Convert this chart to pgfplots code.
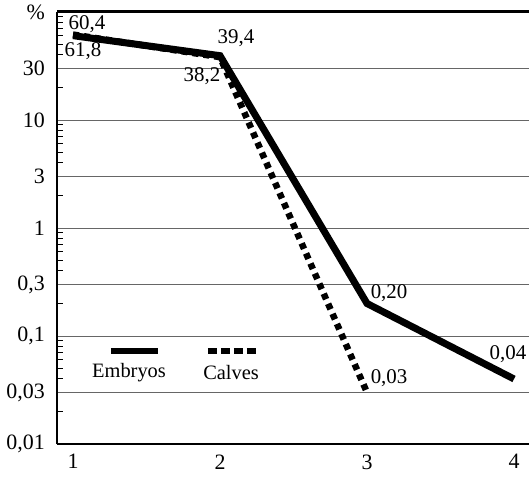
\documentclass[border=0pt]{standalone}
\usepackage{fontspec}
\setmainfont{Liberation Serif}
\usepackage{pgfplots}
\pgfplotsset{compat=1.18}
\begin{document}
\begin{tikzpicture}
\begin{axis}[
  scale only axis,
  width=472bp, height=432bp,
  xmin=0.891, xmax=4.102,
  ymode=log, ymin=0.01, ymax=100,
  axis x line=bottom, axis y line=left,
  axis line style={line width=2.2bp, -},
  separate axis lines,
  font=\fontsize{21}{24}\selectfont,
  xtick={1,2,3,4},
  xticklabels={1,{\raisebox{-2bp}{2}},{\raisebox{8bp}{3}},4},
  xtick style={draw=none},
  xticklabel style={yshift=-7bp, font=\fontsize{22}{24}\selectfont},
  ytick={0.01,0.03,0.1,0.3,1,3,10,30,100},
  yticklabels={{0,01},{0,03},{0,1},{0,3},1,3,10,30,\%},
  yticklabel style={anchor=east, inner sep=0pt, xshift=-12bp, font=\fontsize{22}{24}\selectfont},
  ytick pos=left,
  extra y ticks={0.02,0.04,0.05,0.06,0.07,0.08,0.09,0.2,0.4,0.5,0.6,0.7,0.8,0.9,2,4,5,6,7,8,9,20,40,50,60,70,80,90},
  extra y tick labels={},
  extra y tick style={grid=none, major tick length=6bp, tick align=inside, major tick style={line width=1bp, black}},
  major tick length=0bp,
  ymajorgrids,
  major grid style={line width=0.9bp, gray!80!black},
  clip=false,
]
\addplot[line width=7bp, black, line join=miter] coordinates {(1,60.4) (2,39.4) (3,0.20) (4,0.04)};
\addplot[line width=6.5bp, black, dash pattern=on 6bp off 5bp] coordinates {(1,61.8) (2,38.2) (3,0.03)};
% legend samples
\draw[line width=6bp, black] (axis cs:1.258,0.0726) -- (axis cs:1.578,0.0726);
\draw[line width=6bp, black, dash pattern=on 9bp off 4bp] (axis cs:1.918,0.0726) -- (axis cs:2.245,0.0726);
\node at (axis cs:1.381,0.046) {\fontsize{20.5}{24}\selectfont Embryos};
\node at (axis cs:2.075,0.046) {\fontsize{20.5}{24}\selectfont Calves};
% value labels
\node at (axis cs:1.095,77.5) {60,4};
\node at (axis cs:1.068,43.5) {61,8};
\node at (axis cs:2.109,57.4) {39,4};
\node at (axis cs:1.877,25.5) {38,2};
\node at (axis cs:3.15,0.25) {0,20};
\node at (axis cs:3.15,0.041) {0,03};
\node at (axis cs:3.959,0.068) {0,04};
\draw[line width=3bp, black] (axis cs:0.891,100) -- (axis cs:4.102,100);
\end{axis}
\pgfresetboundingbox
\path ([xshift=-57bp,yshift=-36bp]current axis.south west) rectangle ([yshift=12bp]current axis.north east);
\end{tikzpicture}
\end{document}
